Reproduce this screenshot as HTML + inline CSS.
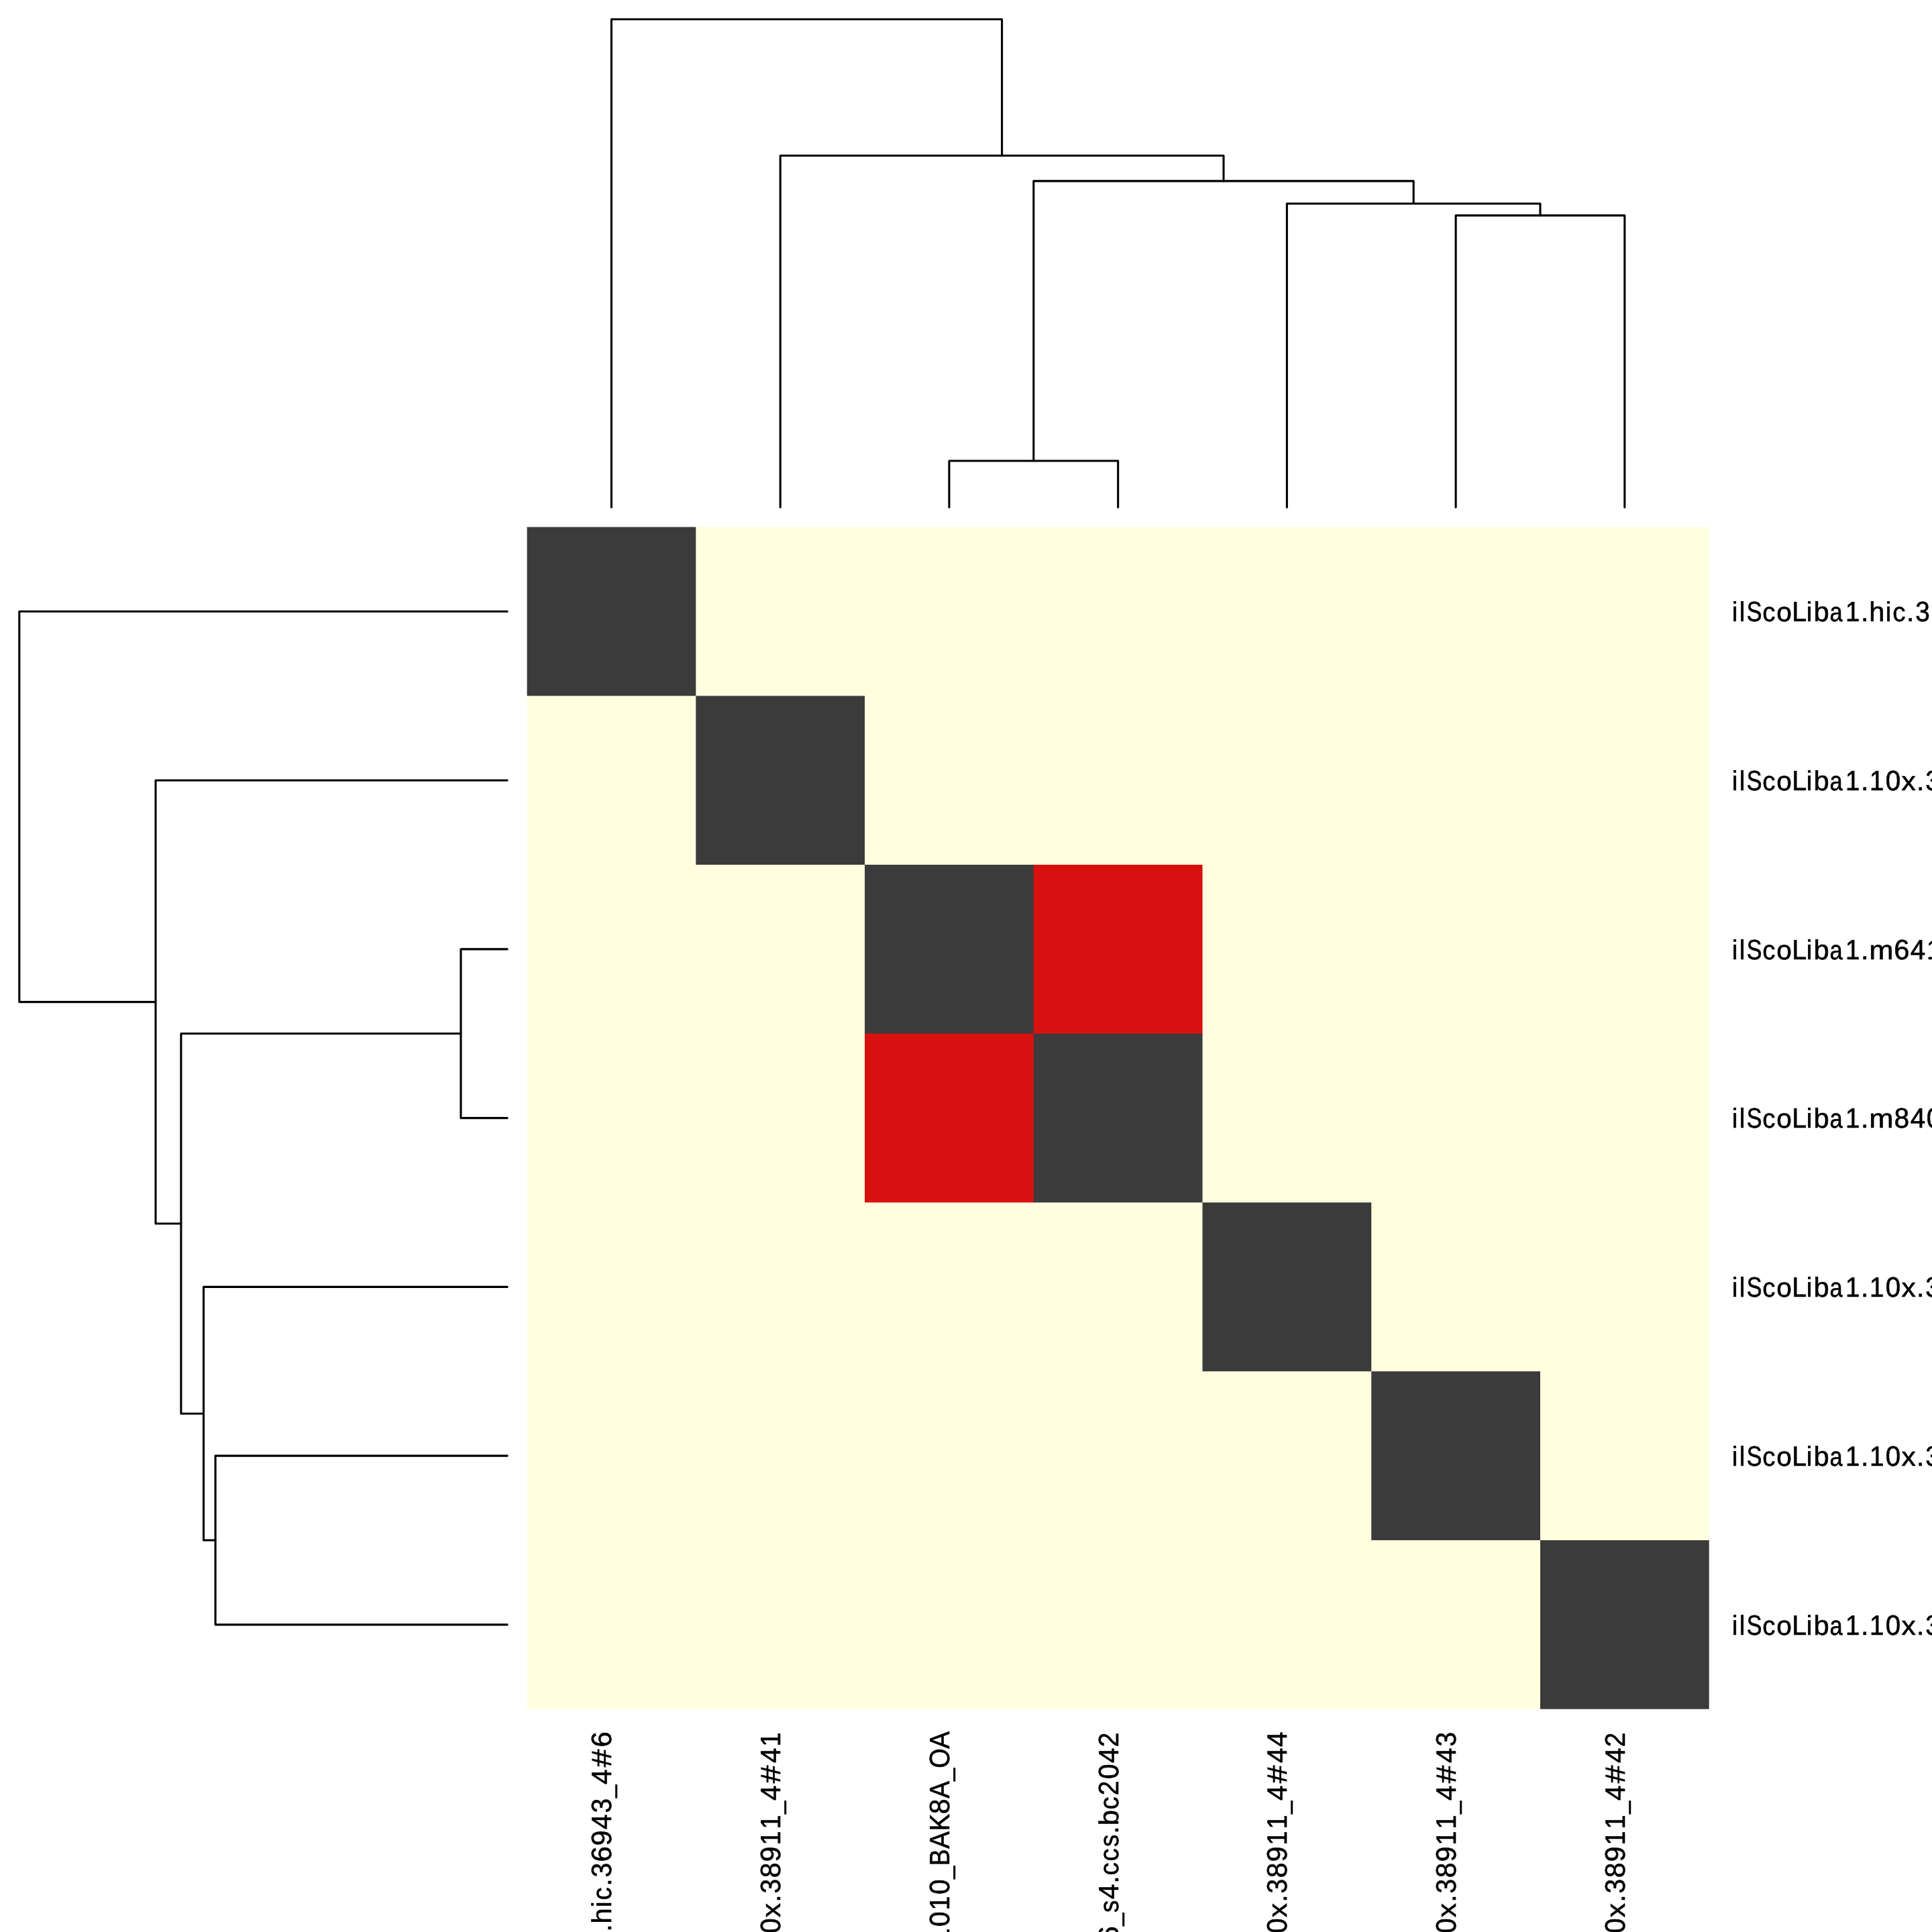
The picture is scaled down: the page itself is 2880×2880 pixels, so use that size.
<!DOCTYPE html>
<html lang="en"><head><meta charset="utf-8"><title>clustermap</title>
<style>html,body{margin:0;padding:0;background:#fff;}body{width:2880px;height:2880px;overflow:hidden;}svg{display:block;will-change:transform;}text{font-family:"Liberation Sans",sans-serif;fill:#000;text-rendering:geometricPrecision;}</style></head><body>
<svg width="2880" height="2880" viewBox="0 0 2880 2880">
<rect width="2880" height="2880" fill="#fff"/>
<g>
<polygon points="1036.33,785.60 2547.70,785.60 2547.70,2296.97 2296.97,2296.97 2296.97,2547.70 785.60,2547.70 785.60,1036.33 1036.33,1036.33" fill="#ffffe0"/>
<rect x="1539.79" y="1289.06" width="252.73" height="252.73" fill="#d91010"/>
<rect x="1289.06" y="1539.79" width="252.73" height="252.73" fill="#d91010"/>
<rect x="785.60" y="785.60" width="251.73" height="251.73" fill="#3b3b3b"/>
<rect x="1037.33" y="1037.33" width="251.73" height="251.73" fill="#3b3b3b"/>
<rect x="1289.06" y="1289.06" width="251.73" height="251.73" fill="#3b3b3b"/>
<rect x="1540.79" y="1540.79" width="251.73" height="251.73" fill="#3b3b3b"/>
<rect x="1792.51" y="1792.51" width="251.73" height="251.73" fill="#3b3b3b"/>
<rect x="2044.24" y="2044.24" width="251.73" height="251.73" fill="#3b3b3b"/>
<rect x="2295.97" y="2295.97" width="251.73" height="251.73" fill="#3b3b3b"/>
</g>
<g fill="none" stroke="#000" stroke-width="3.1" stroke-linecap="round" stroke-linejoin="round">
<polyline points="1414.92,756.20 1414.92,687.00 1666.65,687.00 1666.65,756.20"/>
<polyline points="2170.11,756.20 2170.11,321.10 2421.84,321.10 2421.84,756.20"/>
<polyline points="1918.38,756.20 1918.38,303.50 2295.97,303.50 2295.97,321.10"/>
<polyline points="1540.79,687.00 1540.79,269.90 2107.18,269.90 2107.18,303.50"/>
<polyline points="1163.19,756.20 1163.19,232.00 1823.98,232.00 1823.98,269.90"/>
<polyline points="911.46,756.20 911.46,28.80 1493.59,28.80 1493.59,232.00"/>
<polyline points="756.20,1414.92 687.00,1414.92 687.00,1666.65 756.20,1666.65"/>
<polyline points="756.20,2170.11 321.10,2170.11 321.10,2421.84 756.20,2421.84"/>
<polyline points="756.20,1918.38 303.50,1918.38 303.50,2295.97 321.10,2295.97"/>
<polyline points="687.00,1540.79 269.90,1540.79 269.90,2107.18 303.50,2107.18"/>
<polyline points="756.20,1163.19 232.00,1163.19 232.00,1823.98 269.90,1823.98"/>
<polyline points="756.20,911.46 28.80,911.46 28.80,1493.59 232.00,1493.59"/>
</g>
<g font-size="40.0" stroke="#000" stroke-width="0.6" stroke-linejoin="round">
<g transform="translate(2580.75,926.00)">
<text transform="translate(0.99,0.00) scale(0.9788,1.0222)">i</text>
<text transform="translate(11.97,0.00) scale(0.9788,1.0222)">l</text>
<text transform="translate(22.97,0.00) scale(0.8535,1.0477)">S</text>
<text transform="translate(46.48,0.00) scale(0.9608,0.9957)">c</text>
<text transform="translate(67.40,0.00) scale(1.0179,0.9957)">o</text>
<text transform="translate(90.53,0.00) scale(0.9851,1.0443)">L</text>
<text transform="translate(111.99,0.00) scale(0.9788,1.0222)">i</text>
<text transform="translate(122.79,0.00) scale(1.0417,1.0222)">b</text>
<text transform="translate(146.84,0.00) scale(0.8610,0.9957)">a</text>
<text transform="translate(170.27,0.00) scale(0.9640,1.0443)">1</text>
<text transform="translate(193.31,0.00) scale(1.0361,1.0000)">.</text>
<text transform="translate(205.60,0.00) scale(1.0395,1.0222)">h</text>
<text transform="translate(229.99,0.00) scale(0.9788,1.0222)">i</text>
<text transform="translate(240.48,0.00) scale(0.9608,0.9957)">c</text>
<text transform="translate(261.31,0.00) scale(1.0361,1.0000)">.</text>
<text transform="translate(274.44,0.00) scale(0.9693,1.0477)">3</text>
<text transform="translate(297.55,0.00) scale(1.0446,1.0477)">6</text>
</g>
<g transform="translate(2580.75,1178.00)">
<text transform="translate(0.99,0.00) scale(0.9788,1.0222)">i</text>
<text transform="translate(11.97,0.00) scale(0.9788,1.0222)">l</text>
<text transform="translate(22.97,0.00) scale(0.8535,1.0477)">S</text>
<text transform="translate(46.48,0.00) scale(0.9608,0.9957)">c</text>
<text transform="translate(67.40,0.00) scale(1.0179,0.9957)">o</text>
<text transform="translate(90.53,0.00) scale(0.9851,1.0443)">L</text>
<text transform="translate(111.99,0.00) scale(0.9788,1.0222)">i</text>
<text transform="translate(122.79,0.00) scale(1.0417,1.0222)">b</text>
<text transform="translate(146.84,0.00) scale(0.8610,0.9957)">a</text>
<text transform="translate(170.27,0.00) scale(0.9640,1.0443)">1</text>
<text transform="translate(193.31,0.00) scale(1.0361,1.0000)">.</text>
<text transform="translate(206.27,0.00) scale(0.9640,1.0443)">1</text>
<text transform="translate(229.95,0.00) scale(1.0093,1.0477)">0</text>
<text transform="translate(253.63,0.00) scale(1.0622,0.9900)">x</text>
<text transform="translate(276.31,0.00) scale(1.0361,1.0000)">.</text>
<text transform="translate(289.44,0.00) scale(0.9693,1.0477)">3</text>
<text transform="translate(312.83,0.00) scale(1.0203,1.0477)">8</text>
</g>
<g transform="translate(2580.75,1430.00)">
<text transform="translate(0.99,0.00) scale(0.9788,1.0222)">i</text>
<text transform="translate(11.97,0.00) scale(0.9788,1.0222)">l</text>
<text transform="translate(22.97,0.00) scale(0.8535,1.0477)">S</text>
<text transform="translate(46.48,0.00) scale(0.9608,0.9957)">c</text>
<text transform="translate(67.40,0.00) scale(1.0179,0.9957)">o</text>
<text transform="translate(90.53,0.00) scale(0.9851,1.0443)">L</text>
<text transform="translate(111.99,0.00) scale(0.9788,1.0222)">i</text>
<text transform="translate(122.79,0.00) scale(1.0417,1.0222)">b</text>
<text transform="translate(146.84,0.00) scale(0.8610,0.9957)">a</text>
<text transform="translate(170.27,0.00) scale(0.9640,1.0443)">1</text>
<text transform="translate(193.31,0.00) scale(1.0361,1.0000)">.</text>
<text transform="translate(205.58,0.00) scale(1.0909,0.9957)">m</text>
<text transform="translate(242.55,0.00) scale(1.0446,1.0477)">6</text>
<text transform="translate(266.94,0.00) scale(1.0095,1.0443)">4</text>
<text transform="translate(291.27,0.00) scale(0.9640,1.0443)">1</text>
<text transform="translate(315.12,0.00) scale(0.9873,1.0443)">7</text>
</g>
<g transform="translate(2580.75,1681.00)">
<text transform="translate(0.99,0.00) scale(0.9788,1.0222)">i</text>
<text transform="translate(11.97,0.00) scale(0.9788,1.0222)">l</text>
<text transform="translate(22.97,0.00) scale(0.8535,1.0477)">S</text>
<text transform="translate(46.48,0.00) scale(0.9608,0.9957)">c</text>
<text transform="translate(67.40,0.00) scale(1.0179,0.9957)">o</text>
<text transform="translate(90.53,0.00) scale(0.9851,1.0443)">L</text>
<text transform="translate(111.99,0.00) scale(0.9788,1.0222)">i</text>
<text transform="translate(122.79,0.00) scale(1.0417,1.0222)">b</text>
<text transform="translate(146.84,0.00) scale(0.8610,0.9957)">a</text>
<text transform="translate(170.27,0.00) scale(0.9640,1.0443)">1</text>
<text transform="translate(193.31,0.00) scale(1.0361,1.0000)">.</text>
<text transform="translate(205.58,0.00) scale(1.0909,0.9957)">m</text>
<text transform="translate(242.83,0.00) scale(1.0203,1.0477)">8</text>
<text transform="translate(266.94,0.00) scale(1.0095,1.0443)">4</text>
<text transform="translate(290.95,0.00) scale(1.0093,1.0477)">0</text>
<text transform="translate(314.94,0.00) scale(1.0095,1.0443)">4</text>
</g>
<g transform="translate(2580.75,1933.00)">
<text transform="translate(0.99,0.00) scale(0.9788,1.0222)">i</text>
<text transform="translate(11.97,0.00) scale(0.9788,1.0222)">l</text>
<text transform="translate(22.97,0.00) scale(0.8535,1.0477)">S</text>
<text transform="translate(46.48,0.00) scale(0.9608,0.9957)">c</text>
<text transform="translate(67.40,0.00) scale(1.0179,0.9957)">o</text>
<text transform="translate(90.53,0.00) scale(0.9851,1.0443)">L</text>
<text transform="translate(111.99,0.00) scale(0.9788,1.0222)">i</text>
<text transform="translate(122.79,0.00) scale(1.0417,1.0222)">b</text>
<text transform="translate(146.84,0.00) scale(0.8610,0.9957)">a</text>
<text transform="translate(170.27,0.00) scale(0.9640,1.0443)">1</text>
<text transform="translate(193.31,0.00) scale(1.0361,1.0000)">.</text>
<text transform="translate(206.27,0.00) scale(0.9640,1.0443)">1</text>
<text transform="translate(229.95,0.00) scale(1.0093,1.0477)">0</text>
<text transform="translate(253.63,0.00) scale(1.0622,0.9900)">x</text>
<text transform="translate(276.31,0.00) scale(1.0361,1.0000)">.</text>
<text transform="translate(289.44,0.00) scale(0.9693,1.0477)">3</text>
<text transform="translate(312.83,0.00) scale(1.0203,1.0477)">8</text>
</g>
<g transform="translate(2580.75,2185.00)">
<text transform="translate(0.99,0.00) scale(0.9788,1.0222)">i</text>
<text transform="translate(11.97,0.00) scale(0.9788,1.0222)">l</text>
<text transform="translate(22.97,0.00) scale(0.8535,1.0477)">S</text>
<text transform="translate(46.48,0.00) scale(0.9608,0.9957)">c</text>
<text transform="translate(67.40,0.00) scale(1.0179,0.9957)">o</text>
<text transform="translate(90.53,0.00) scale(0.9851,1.0443)">L</text>
<text transform="translate(111.99,0.00) scale(0.9788,1.0222)">i</text>
<text transform="translate(122.79,0.00) scale(1.0417,1.0222)">b</text>
<text transform="translate(146.84,0.00) scale(0.8610,0.9957)">a</text>
<text transform="translate(170.27,0.00) scale(0.9640,1.0443)">1</text>
<text transform="translate(193.31,0.00) scale(1.0361,1.0000)">.</text>
<text transform="translate(206.27,0.00) scale(0.9640,1.0443)">1</text>
<text transform="translate(229.95,0.00) scale(1.0093,1.0477)">0</text>
<text transform="translate(253.63,0.00) scale(1.0622,0.9900)">x</text>
<text transform="translate(276.31,0.00) scale(1.0361,1.0000)">.</text>
<text transform="translate(289.44,0.00) scale(0.9693,1.0477)">3</text>
<text transform="translate(312.83,0.00) scale(1.0203,1.0477)">8</text>
</g>
<g transform="translate(2580.75,2437.00)">
<text transform="translate(0.99,0.00) scale(0.9788,1.0222)">i</text>
<text transform="translate(11.97,0.00) scale(0.9788,1.0222)">l</text>
<text transform="translate(22.97,0.00) scale(0.8535,1.0477)">S</text>
<text transform="translate(46.48,0.00) scale(0.9608,0.9957)">c</text>
<text transform="translate(67.40,0.00) scale(1.0179,0.9957)">o</text>
<text transform="translate(90.53,0.00) scale(0.9851,1.0443)">L</text>
<text transform="translate(111.99,0.00) scale(0.9788,1.0222)">i</text>
<text transform="translate(122.79,0.00) scale(1.0417,1.0222)">b</text>
<text transform="translate(146.84,0.00) scale(0.8610,0.9957)">a</text>
<text transform="translate(170.27,0.00) scale(0.9640,1.0443)">1</text>
<text transform="translate(193.31,0.00) scale(1.0361,1.0000)">.</text>
<text transform="translate(206.27,0.00) scale(0.9640,1.0443)">1</text>
<text transform="translate(229.95,0.00) scale(1.0093,1.0477)">0</text>
<text transform="translate(253.63,0.00) scale(1.0622,0.9900)">x</text>
<text transform="translate(276.31,0.00) scale(1.0361,1.0000)">.</text>
<text transform="translate(289.44,0.00) scale(0.9693,1.0477)">3</text>
<text transform="translate(312.83,0.00) scale(1.0203,1.0477)">8</text>
</g>
<g transform="translate(911.00,2581.00) rotate(-90)">
<text transform="translate(-321.73,0.00) scale(0.9640,1.0443)">1</text>
<text transform="translate(-298.69,0.00) scale(1.0361,1.0000)">.</text>
<text transform="translate(-286.40,0.00) scale(1.0395,1.0222)">h</text>
<text transform="translate(-262.01,0.00) scale(0.9788,1.0222)">i</text>
<text transform="translate(-251.52,0.00) scale(0.9608,0.9957)">c</text>
<text transform="translate(-230.69,0.00) scale(1.0361,1.0000)">.</text>
<text transform="translate(-217.56,0.00) scale(0.9693,1.0477)">3</text>
<text transform="translate(-194.45,0.00) scale(1.0446,1.0477)">6</text>
<text transform="translate(-170.54,0.00) scale(1.0425,1.0477)">9</text>
<text transform="translate(-146.06,0.00) scale(1.0095,1.0443)">4</text>
<text transform="translate(-121.56,0.00) scale(0.9693,1.0477)">3</text>
<text transform="translate(-98.86,1.00) scale(0.8540,1.0000)">_</text>
<text transform="translate(-79.06,0.00) scale(1.0095,1.0443)">4</text>
<text transform="translate(-53.26,0.00) scale(1.1977,1.0340)">#</text>
<text transform="translate(-23.45,0.00) scale(1.0446,1.0477)">6</text>
</g>
<g transform="translate(1163.00,2581.00) rotate(-90)">
<text transform="translate(-324.73,0.00) scale(0.9640,1.0443)">1</text>
<text transform="translate(-301.05,0.00) scale(1.0093,1.0477)">0</text>
<text transform="translate(-277.37,0.00) scale(1.0622,0.9900)">x</text>
<text transform="translate(-254.69,0.00) scale(1.0361,1.0000)">.</text>
<text transform="translate(-241.56,0.00) scale(0.9693,1.0477)">3</text>
<text transform="translate(-218.17,0.00) scale(1.0203,1.0477)">8</text>
<text transform="translate(-194.54,0.00) scale(1.0425,1.0477)">9</text>
<text transform="translate(-169.73,0.00) scale(0.9640,1.0443)">1</text>
<text transform="translate(-145.73,0.00) scale(0.9640,1.0443)">1</text>
<text transform="translate(-122.86,1.00) scale(0.8540,1.0000)">_</text>
<text transform="translate(-103.06,0.00) scale(1.0095,1.0443)">4</text>
<text transform="translate(-77.26,0.00) scale(1.1977,1.0340)">#</text>
<text transform="translate(-47.06,0.00) scale(1.0095,1.0443)">4</text>
<text transform="translate(-22.73,0.00) scale(0.9640,1.0443)">1</text>
</g>
<g transform="translate(1415.00,2581.00) rotate(-90)">
<text transform="translate(-336.52,0.00) scale(0.9608,0.9957)">c</text>
<text transform="translate(-314.73,0.00) scale(0.9640,1.0443)">1</text>
<text transform="translate(-291.05,0.00) scale(1.0093,1.0477)">0</text>
<text transform="translate(-266.73,0.00) scale(0.9640,1.0443)">1</text>
<text transform="translate(-243.05,0.00) scale(1.0093,1.0477)">0</text>
<text transform="translate(-219.86,1.00) scale(0.8540,1.0000)">_</text>
<text transform="translate(-200.29,0.00) scale(0.9303,1.0443)">B</text>
<text transform="translate(-174.78,0.00) scale(0.9646,1.0443)">A</text>
<text transform="translate(-148.41,0.00) scale(0.9656,1.0443)">K</text>
<text transform="translate(-123.17,0.00) scale(1.0203,1.0477)">8</text>
<text transform="translate(-99.78,0.00) scale(0.9646,1.0443)">A</text>
<text transform="translate(-73.86,1.00) scale(0.8540,1.0000)">_</text>
<text transform="translate(-54.64,0.00) scale(0.9465,1.0477)">O</text>
<text transform="translate(-25.78,0.00) scale(0.9646,1.0443)">A</text>
</g>
<g transform="translate(1667.00,2581.00) rotate(-90)">
<text transform="translate(-336.57,0.00) scale(0.9526,1.0443)">5</text>
<text transform="translate(-313.45,0.00) scale(1.0446,1.0477)">6</text>
<text transform="translate(-289.86,1.00) scale(0.8540,1.0000)">_</text>
<text transform="translate(-269.95,0.00) scale(0.9178,0.9984)">s</text>
<text transform="translate(-250.06,0.00) scale(1.0095,1.0443)">4</text>
<text transform="translate(-226.69,0.00) scale(1.0361,1.0000)">.</text>
<text transform="translate(-214.52,0.00) scale(0.9608,0.9957)">c</text>
<text transform="translate(-193.52,0.00) scale(0.9608,0.9957)">c</text>
<text transform="translate(-171.95,0.00) scale(0.9178,0.9984)">s</text>
<text transform="translate(-152.69,0.00) scale(1.0361,1.0000)">.</text>
<text transform="translate(-140.21,0.00) scale(1.0417,1.0222)">b</text>
<text transform="translate(-116.52,0.00) scale(0.9608,0.9957)">c</text>
<text transform="translate(-95.15,0.00) scale(0.9729,1.0477)">2</text>
<text transform="translate(-71.05,0.00) scale(1.0093,1.0477)">0</text>
<text transform="translate(-47.06,0.00) scale(1.0095,1.0443)">4</text>
<text transform="translate(-23.15,0.00) scale(0.9729,1.0477)">2</text>
</g>
<g transform="translate(1918.00,2581.00) rotate(-90)">
<text transform="translate(-324.73,0.00) scale(0.9640,1.0443)">1</text>
<text transform="translate(-301.05,0.00) scale(1.0093,1.0477)">0</text>
<text transform="translate(-277.37,0.00) scale(1.0622,0.9900)">x</text>
<text transform="translate(-254.69,0.00) scale(1.0361,1.0000)">.</text>
<text transform="translate(-241.56,0.00) scale(0.9693,1.0477)">3</text>
<text transform="translate(-218.17,0.00) scale(1.0203,1.0477)">8</text>
<text transform="translate(-194.54,0.00) scale(1.0425,1.0477)">9</text>
<text transform="translate(-169.73,0.00) scale(0.9640,1.0443)">1</text>
<text transform="translate(-145.73,0.00) scale(0.9640,1.0443)">1</text>
<text transform="translate(-122.86,1.00) scale(0.8540,1.0000)">_</text>
<text transform="translate(-103.06,0.00) scale(1.0095,1.0443)">4</text>
<text transform="translate(-77.26,0.00) scale(1.1977,1.0340)">#</text>
<text transform="translate(-47.06,0.00) scale(1.0095,1.0443)">4</text>
<text transform="translate(-23.06,0.00) scale(1.0095,1.0443)">4</text>
</g>
<g transform="translate(2170.00,2581.00) rotate(-90)">
<text transform="translate(-324.73,0.00) scale(0.9640,1.0443)">1</text>
<text transform="translate(-301.05,0.00) scale(1.0093,1.0477)">0</text>
<text transform="translate(-277.37,0.00) scale(1.0622,0.9900)">x</text>
<text transform="translate(-254.69,0.00) scale(1.0361,1.0000)">.</text>
<text transform="translate(-241.56,0.00) scale(0.9693,1.0477)">3</text>
<text transform="translate(-218.17,0.00) scale(1.0203,1.0477)">8</text>
<text transform="translate(-194.54,0.00) scale(1.0425,1.0477)">9</text>
<text transform="translate(-169.73,0.00) scale(0.9640,1.0443)">1</text>
<text transform="translate(-145.73,0.00) scale(0.9640,1.0443)">1</text>
<text transform="translate(-122.86,1.00) scale(0.8540,1.0000)">_</text>
<text transform="translate(-103.06,0.00) scale(1.0095,1.0443)">4</text>
<text transform="translate(-77.26,0.00) scale(1.1977,1.0340)">#</text>
<text transform="translate(-47.06,0.00) scale(1.0095,1.0443)">4</text>
<text transform="translate(-22.56,0.00) scale(0.9693,1.0477)">3</text>
</g>
<g transform="translate(2422.00,2581.00) rotate(-90)">
<text transform="translate(-324.73,0.00) scale(0.9640,1.0443)">1</text>
<text transform="translate(-301.05,0.00) scale(1.0093,1.0477)">0</text>
<text transform="translate(-277.37,0.00) scale(1.0622,0.9900)">x</text>
<text transform="translate(-254.69,0.00) scale(1.0361,1.0000)">.</text>
<text transform="translate(-241.56,0.00) scale(0.9693,1.0477)">3</text>
<text transform="translate(-218.17,0.00) scale(1.0203,1.0477)">8</text>
<text transform="translate(-194.54,0.00) scale(1.0425,1.0477)">9</text>
<text transform="translate(-169.73,0.00) scale(0.9640,1.0443)">1</text>
<text transform="translate(-145.73,0.00) scale(0.9640,1.0443)">1</text>
<text transform="translate(-122.86,1.00) scale(0.8540,1.0000)">_</text>
<text transform="translate(-103.06,0.00) scale(1.0095,1.0443)">4</text>
<text transform="translate(-77.26,0.00) scale(1.1977,1.0340)">#</text>
<text transform="translate(-47.06,0.00) scale(1.0095,1.0443)">4</text>
<text transform="translate(-23.15,0.00) scale(0.9729,1.0477)">2</text>
</g>
</g>
</svg></body></html>
